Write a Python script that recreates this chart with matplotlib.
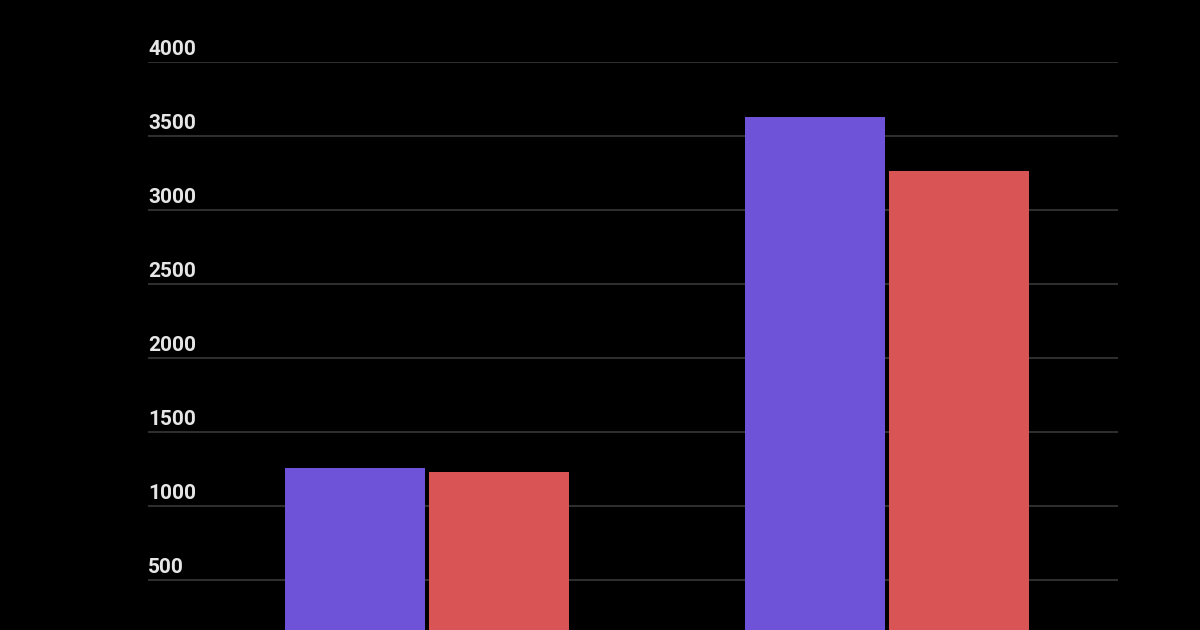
import matplotlib
matplotlib.use("Agg")
import matplotlib.pyplot as plt
import matplotlib.transforms as mtransforms

categories = ["A", "B"]
series_purple = [1255, 3626]
series_red = [1232, 3266]
ytick_values = [500, 1000, 1500, 2000, 2500, 3000, 3500, 4000]
ytick_labels = ["500", "1000", "1500", "2000", "2500", "3000", "3500", "4000"]

fig = plt.figure(figsize=(12, 6.3), dpi=100, facecolor="black")
ax = fig.add_axes([148/1200, 1 - 654/630, 970/1200, (654 - 62)/630])
ax.set_facecolor("black")

x = list(range(len(categories)))
w = 140/460
off = 72/460
ax.bar([i - off for i in x], series_purple, width=w, color="#6e53d9", zorder=3)
ax.bar([i + off for i in x], series_red, width=w, color="#d95555", zorder=3)

ax.set_xlim(-278.5/460, (970 - 278.5)/460)
ax.set_ylim(0, 4000)

for v in ytick_values:
    ax.axhline(v, color="#2e2e2e", linewidth=1.5, zorder=1)

trans = mtransforms.blended_transform_factory(ax.transAxes, ax.transData)
trans = trans + mtransforms.ScaledTranslation(0, 2.5/72, fig.dpi_scale_trans)
for v, lab in zip(ytick_values, ytick_labels):
    ax.text(0.0, v, lab, transform=trans, ha="left", va="bottom",
            color="#e6e6e6", fontsize=15, fontfamily="Roboto", fontweight="bold",
            zorder=4)

ax.set_xticks([])
ax.set_yticks([])
for s in ax.spines.values():
    s.set_visible(False)

fig.savefig("out.png", dpi=100, facecolor="black")
